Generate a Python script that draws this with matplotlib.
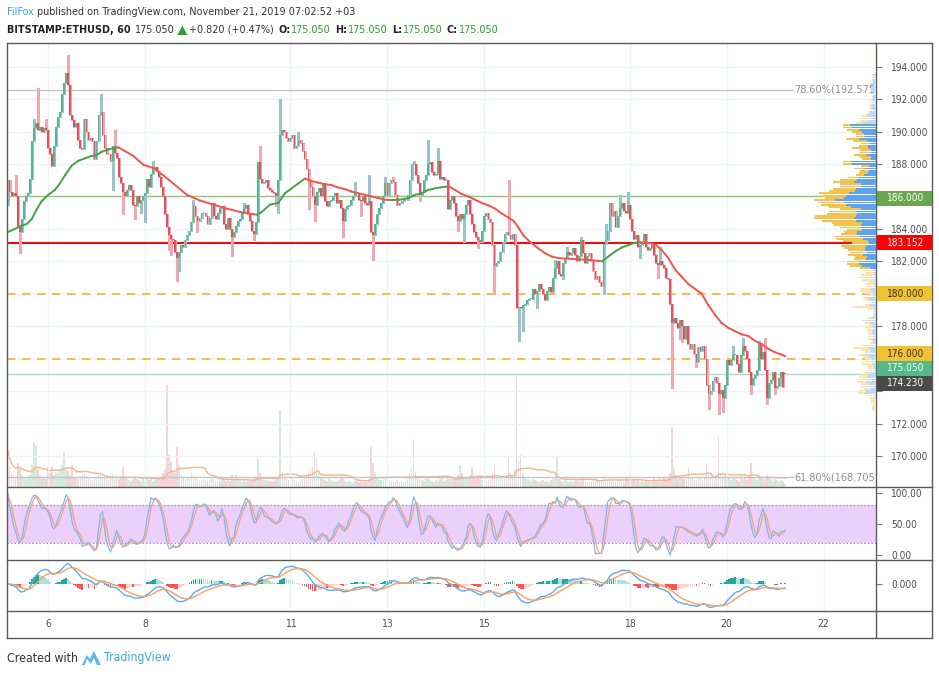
import datetime as dt
import numpy as np
import pandas as pd
import matplotlib
matplotlib.use('Agg')
import matplotlib.pyplot as plt
from matplotlib import font_manager as fm
from matplotlib.collections import LineCollection, PolyCollection
from matplotlib.lines import Line2D
from matplotlib.patches import Rectangle, Polygon

W, H, DPI = 939, 675, 100

# ---------------------------------------------------------------- data
START = dt.datetime(2019, 11, 5, 4, 0)      # first hourly candle
OPEN_FIRST = 185.45
LAST_OPEN = 175.05
CLOSE = [
    187.0, 186.3, 186.0, 186.2, 186.0, 184.2, 183.8, 184.6, 185.7, 186.0, 186.2, 187.1, 189.4, 190.2, 190.5, 190.1, 190.3, 190.0, 190.2, 190.1,
    189.0, 188.6, 187.9, 189.1, 190.3, 190.9, 191.2, 192.3, 193.0, 193.6, 192.9, 191.0, 190.7, 190.3, 190.5, 189.5, 189.0, 188.9, 190.8, 190.0,
    189.5, 189.6, 189.4, 188.3, 189.4, 191.0, 191.2, 189.8, 189.0, 188.6, 188.6, 188.2, 189.1, 188.7, 188.4, 187.2, 186.8, 186.3, 186.0, 186.4,
    186.7, 186.4, 185.5, 185.4, 186.0, 185.6, 185.8, 186.0, 186.2, 187.1, 186.6, 187.4, 187.7, 187.8, 187.6, 187.2, 186.6, 186.0, 184.9, 184.1,
    183.6, 183.4, 183.3, 182.6, 182.2, 182.6, 183.0, 182.9, 183.3, 183.6, 183.9, 184.4, 185.4, 184.8, 184.5, 184.7, 185.0, 185.0, 184.8, 184.3,
    184.7, 185.6, 184.8, 184.6, 185.0, 185.3, 185.4, 184.3, 184.0, 184.7, 184.0, 183.5, 183.8, 184.2, 184.5, 184.6, 185.0, 185.3, 185.5, 184.9,
    184.5, 183.9, 183.7, 184.4, 188.1, 187.1, 186.8, 186.9, 187.0, 186.5, 186.4, 186.3, 186.2, 186.0, 187.0, 189.8, 190.1, 190.0, 189.6, 189.4,
    189.6, 189.8, 189.0, 189.1, 189.5, 189.3, 188.8, 188.3, 187.7, 186.9, 186.6, 186.0, 185.5, 186.3, 186.5, 186.0, 186.8, 185.7, 185.4, 185.7,
    185.8, 186.0, 186.2, 185.6, 185.8, 185.3, 184.5, 185.2, 185.4, 185.5, 185.8, 186.0, 186.3, 186.2, 185.8, 185.7, 186.0, 185.6, 185.5, 185.7,
    183.8, 183.6, 184.3, 184.9, 185.3, 185.6, 186.0, 186.8, 186.1, 186.8, 187.0, 186.9, 186.1, 185.5, 185.6, 185.7, 185.8, 185.8, 186.1, 187.0,
    188.0, 188.0, 187.3, 186.8, 186.1, 186.3, 187.0, 187.3, 188.0, 188.1, 187.5, 187.3, 187.4, 188.2, 187.1, 187.2, 187.0, 187.0, 185.2, 185.8,
    186.0, 185.6, 184.8, 184.5, 184.9, 184.6, 184.9, 185.5, 185.8, 184.9, 184.3, 183.8, 183.5, 183.3, 183.2, 183.9, 184.8, 185.0, 184.6, 184.4,
    183.0, 181.7, 181.9, 182.0, 182.6, 183.2, 183.7, 183.8, 183.6, 183.4, 183.7, 183.0, 179.1, 179.2, 179.1, 179.3, 179.4, 179.6, 179.7, 179.7,
    180.3, 180.0, 180.2, 180.6, 180.3, 180.0, 179.6, 180.2, 180.4, 180.1, 181.0, 181.6, 182.0, 181.2, 181.1, 181.9, 182.2, 182.6, 182.4, 182.5,
    182.8, 182.4, 182.0, 182.3, 183.3, 182.5, 181.9, 182.3, 182.5, 182.0, 181.4, 180.9, 181.1, 180.7, 180.5, 183.1, 183.3, 183.9, 185.6, 184.8,
    185.1, 184.1, 184.8, 185.3, 185.6, 185.1, 185.0, 185.5, 184.6, 183.9, 183.4, 183.6, 182.9, 183.0, 183.2, 183.7, 182.9, 182.7, 182.8, 183.0,
    182.4, 181.9, 181.8, 182.0, 181.8, 181.6, 181.0, 180.9, 179.4, 178.2, 178.5, 178.2, 177.9, 178.4, 178.0, 177.2, 178.0, 176.9, 176.6, 176.9,
    176.3, 175.8, 176.7, 176.5, 176.8, 176.0, 174.4, 173.8, 174.0, 174.6, 174.9, 174.5, 173.8, 174.1, 173.6, 174.4, 175.9, 175.6, 175.9, 176.2,
    176.2, 175.7, 175.2, 176.2, 176.8, 176.5, 176.0, 175.2, 174.4, 174.8, 175.0, 175.3, 176.9, 176.0, 176.4, 175.3, 173.6, 174.5, 174.7, 175.2,
    174.2, 174.3, 174.8, 175.2, 174.23, 175.05,
]
# long wicks: candle index -> extreme price
WICK_HIGH = {4: 187.3, 13: 190.8, 15: 192.7, 19: 190.8, 30: 194.7, 46: 192.3, 53: 190.1, 72: 188.2,
             92: 185.8, 117: 185.6, 125: 189.1, 135: 192.0, 144: 190.0, 172: 186.9, 179: 187.3,
             187: 187.2, 191: 187.2, 201: 188.2, 208: 189.5, 213: 189.0, 248: 187.0, 271: 182.1,
             277: 182.9, 284: 183.5, 296: 184.3, 303: 186.1, 307: 186.3, 323: 182.9, 359: 176.8,
             364: 177.3, 372: 177.1, 375: 177.3}
WICK_LOW = {6: 182.5, 52: 186.4, 57: 184.9, 63: 184.6, 66: 185.0, 68: 184.4, 80: 182.7, 81: 182.4,
            84: 180.8, 85: 181.4, 94: 183.8, 111: 182.3, 122: 183.3, 133: 185.4, 134: 185.0,
            149: 185.2, 152: 184.5, 166: 183.5, 175: 184.8, 181: 182.1, 204: 185.7, 223: 183.9,
            226: 183.2, 233: 182.8, 241: 180.0, 253: 177.1, 255: 177.7, 262: 179.1, 270: 180.8,
            275: 180.9, 295: 180.0, 313: 182.2, 322: 181.0, 329: 174.2, 333: 177.2, 334: 177.0,
            341: 175.5, 347: 172.9, 352: 172.6, 354: 172.7, 368: 173.8, 376: 173.2, 380: 173.8,
            383: 174.3}
VOLUME = [
    37, 20, 14, 12, 10, 24, 18, 12, 10, 8, 9, 12, 22, 45, 42, 18, 12, 10, 9, 8,
    20, 14, 20, 12, 15, 14, 18, 22, 35, 20, 16, 12, 22, 10, 9, 8, 10, 12, 14, 10,
    9, 8, 7, 10, 8, 12, 14, 10, 9, 8, 7, 9, 12, 8, 10, 8, 9, 20, 10, 8,
    7, 6, 8, 10, 8, 7, 6, 8, 6, 9, 7, 8, 6, 7, 8, 9, 10, 14, 18, 102,
    32, 25, 16, 14, 40, 22, 12, 10, 8, 9, 10, 14, 12, 9, 8, 7, 6, 8, 7, 6,
    7, 9, 8, 6, 5, 6, 7, 8, 6, 7, 6, 12, 8, 12, 7, 6, 5, 6, 5, 6,
    6, 7, 8, 10, 29, 14, 10, 8, 7, 6, 6, 5, 6, 7, 8, 77, 15, 10, 8, 7,
    6, 8, 7, 6, 5, 7, 9, 10, 12, 14, 18, 20, 35, 29, 14, 10, 8, 7, 6, 9,
    7, 6, 5, 6, 7, 9, 10, 6, 5, 6, 5, 4, 6, 7, 5, 6, 5, 6, 5, 8,
    40, 24, 15, 10, 8, 7, 6, 12, 8, 7, 6, 5, 6, 7, 5, 6, 5, 6, 8, 14,
    20, 47, 15, 10, 8, 7, 6, 8, 9, 7, 6, 5, 7, 6, 8, 9, 6, 7, 10, 8,
    9, 8, 10, 12, 22, 14, 10, 8, 9, 12, 20, 10, 8, 12, 9, 7, 8, 6, 7, 8,
    14, 22, 10, 8, 9, 7, 8, 12, 30, 14, 10, 18, 109, 25, 32, 14, 9, 8, 7, 6,
    8, 7, 6, 5, 6, 7, 5, 6, 5, 7, 8, 9, 30, 8, 6, 5, 7, 6, 5, 6,
    5, 6, 7, 6, 10, 7, 6, 5, 6, 5, 7, 6, 8, 7, 6, 12, 10, 8, 9, 7,
    6, 5, 7, 8, 6, 5, 9, 7, 6, 8, 7, 6, 7, 5, 6, 5, 6, 7, 5, 6,
    10, 7, 6, 8, 7, 9, 8, 10, 14, 60, 18, 12, 8, 10, 9, 8, 12, 20, 10, 9,
    8, 7, 9, 8, 7, 10, 24, 14, 9, 8, 7, 12, 51, 14, 10, 12, 8, 9, 7, 10,
    8, 7, 6, 9, 8, 10, 7, 12, 24, 10, 8, 7, 12, 9, 8, 7, 12, 9, 8, 6,
    8, 7, 6, 7, 6, 3,
]
# moving average line (candle index, price)
MA_T = [0, 3.6, 6.9, 9.4, 11.9, 14.4, 16.8, 20.1, 23.4, 25.9, 28.4, 31.7, 35, 38.3, 41.6, 44.1, 46.5, 49.8,
        53.2, 55, 58, 62.2, 67.2, 72.1, 77.1, 82, 88.7, 95.2, 101.8, 108.5, 115, 121.6, 123.5, 125.8,
        129.9, 134, 137.3, 140.6, 143.9, 147.2, 150.5, 153.8, 157.1, 160.4, 163.7, 167, 170.3, 173.5,
        176.9, 180.2, 183.5, 186.8, 190.1, 194, 198.4, 201.7, 205, 208.3, 211.6, 216.5, 218.5, 221.5,
        224.8, 228.1, 231.4, 234.7, 238, 241.3, 244.6, 247.9, 250.4, 252.8, 255.3, 258.6, 262.7, 266,
        269.3, 272.6, 279.2, 285.9, 289.1, 292.4, 294.4, 297.4, 300.7, 304, 307.3, 310.6, 313.1, 315.6,
        318.8, 321, 323.8, 327.1, 330.4, 333.7, 337, 340.3, 343.6, 346.9, 350.2, 353.5, 356.8, 360.1,
        363.4, 366.7, 370, 373.3, 376.6, 379.8, 383.1, 385]
MA_V = [183.8, 184.0, 184.2, 184.3, 184.6, 185.2, 185.7, 186.1, 186.4, 186.8, 187.3, 187.9, 188.2, 188.35,
        188.5, 188.55, 188.75, 188.9, 189.0, 189.02, 188.8, 188.5, 187.95, 187.75, 187.3, 186.8, 186.1,
        185.75, 185.5, 185.25, 185.05, 184.9, 184.88, 185.05, 185.5, 185.6, 186.2, 186.5, 186.8, 187.1,
        186.95, 186.85, 186.75, 186.7, 186.55, 186.45, 186.3, 186.2, 186.1, 186.0, 185.9, 185.8, 185.78,
        185.8, 185.9, 186.1, 186.2, 186.4, 186.5, 186.6, 186.62, 186.4, 186.15, 186.0, 185.8, 185.6,
        185.45, 185.25, 184.95, 184.7, 184.5, 184.1, 183.6, 183.2, 182.8, 182.5, 182.3, 182.2, 182.15,
        182.1, 182.07, 182.03, 182.0, 182.3, 182.6, 182.85, 183.0, 183.15, 183.18, 183.15, 183.1, 183.0,
        182.7, 182.2, 181.5, 181.05, 180.6, 180.3, 180.0, 179.3, 178.7, 178.2, 177.9, 177.7, 177.5,
        177.4, 177.1, 176.9, 176.6, 176.4, 176.25, 176.15]

DAY_TICKS = [6, 8, 11, 13, 15, 18, 20, 22]
PRICE_TICKS = [170, 172, 174, 176, 178, 180, 182, 184, 186, 188, 190, 192, 194]
FIB_LEVELS = [192.575, 168.705]
FIB_TEXT = ['78.60%(192.575)', '61.80%(168.705)']
LEVEL_GREEN = 186.0
LEVEL_RED = 183.152
LEVEL_DASHED = [180.0, 176.0]
LAST_PRICE = 175.05
PREV_CLOSE = 174.23
AXIS_LABELS = [  # price, box colour, text colour, vertical nudge (px, up)
    (186.000, '#6AA84F', 'white', -2),
    (183.152, '#FF0000', 'white', 0),
    (180.000, '#F1C232', '#333333', 0),
    (176.000, '#F1C232', '#333333', 5),
    (175.050, '#53B987', 'white', 6),
    (174.230, '#4A4A4A', 'white', 4),
]

# ---------------------------------------------------------------- fonts
entries = fm.fontManager.ttflist
names = {f.name for f in entries}
STRETCH = 'normal'
narrow = [f for f in entries
          if ('Narrow' in f.name or 'Condensed' in f.name
              or f.stretch in ('condensed', 'semi-condensed', 'extra-condensed'))
          and 'Mono' not in f.name and 'Serif' not in f.name and 'CJK' not in f.name]
if 'Liberation Sans Narrow' in names:
    FONT = 'Liberation Sans Narrow'
elif narrow:
    FONT, STRETCH = narrow[0].name, narrow[0].stretch
else:
    FONT = 'Liberation Sans'
plt.rcParams['font.family'] = [FONT, 'DejaVu Sans']
plt.rcParams['font.stretch'] = STRETCH

# ---------------------------------------------------------------- derived series
close = np.array(CLOSE, dtype=float)
n = len(close)
open_ = np.r_[OPEN_FIRST, close[:-1]]
open_[-1] = LAST_OPEN
high = np.maximum(open_, close)
low = np.minimum(open_, close)
for j, v in WICK_HIGH.items():
    high[j] = max(high[j], v)
for j, v in WICK_LOW.items():
    low[j] = min(low[j], v)
vol = np.array(VOLUME, dtype=float)
idx = np.arange(n)
up = close >= open_

sc, sh, sl = pd.Series(close), pd.Series(high), pd.Series(low)
hh = sh.rolling(14, min_periods=1).max()
ll = sl.rolling(14, min_periods=1).min()
raw_k = 100 * (sc - ll) / (hh - ll).replace(0, np.nan)
stoch_k = raw_k.fillna(50).rolling(3, min_periods=1).mean()
stoch_d = stoch_k.rolling(3, min_periods=1).mean()

ema12 = sc.ewm(span=12, adjust=False).mean()
ema26 = sc.ewm(span=26, adjust=False).mean()
macd = ema12 - ema26
signal = macd.ewm(span=9, adjust=False).mean()
hist = (macd - signal).values
prev = np.r_[hist[0], hist[:-1]]
hist_col = np.where(hist >= 0, np.where(hist >= prev, '#26A69A', '#B2DFDB'),
                    np.where(hist < prev, '#FF5252', '#FFCDD2'))
vol_ma = pd.Series(vol).rolling(20, min_periods=1).mean()

hours = lambda d: (dt.datetime(2019, 11, d) - START).total_seconds() / 3600.0
tick_pos = [hours(d) for d in DAY_TICKS]

# ---------------------------------------------------------------- figure
fig = plt.figure(figsize=(W / DPI, H / DPI), dpi=DPI, facecolor='white')
rend = fig.canvas.get_renderer()

def text_w(s, size, weight='normal'):
    t = fig.text(0, 0, s, fontsize=size, fontweight=weight)
    w = t.get_window_extent(renderer=rend).width
    t.remove()
    return w

FS_AX = float(np.clip(10 * 34.0 / text_w('194.000', 10), 7.2, 9.0))
FS_HEAD = float(np.clip(10 * 348.0 / text_w('FilFox published on TradingView.com, November 21, 2019 07:02:52 +03', 10), 7.6, 9.6))
FS_FOOT = float(np.clip(10 * 71.0 / text_w('Created with', 10), 8.0, 10.5))

L, R = 7, 876
def ax_rect(top, bottom):
    return [L / W, 1 - bottom / H, (R - L) / W, (bottom - top) / H]

XLIM = (-0.3, 429.9)
ax = fig.add_axes(ax_rect(43, 487))
ax_st = fig.add_axes(ax_rect(487, 560))
ax_m = fig.add_axes(ax_rect(560, 611))
GRID = '#EEF1F6'

# volume (behind everything) on its own scale; profile on its own x scale
axv = ax.twinx()
axp = ax.twiny()
axv.set_zorder(0)
ax.set_zorder(1)
axp.set_zorder(2)
ax.patch.set_visible(False)
axp.patch.set_visible(False)

for a in (ax, ax_st, ax_m):
    a.set_xlim(*XLIM)
    for s in a.spines.values():
        s.set_visible(False)
    a.set_facecolor('none')
    for t in tick_pos:
        a.axvline(t, color=GRID, lw=1, zorder=0)
    a.yaxis.tick_right()
    a.yaxis.set_label_position('right')
    a.tick_params(axis='y', which='both', left=False, labelleft=False, right=True, labelright=True,
                  direction='out', length=4, width=0.8, color='#777777',
                  pad=7, labelsize=FS_AX, labelcolor='#4D4D4D')
    a.tick_params(axis='x', length=0)
    a.set_xticks([])

# --- main pane
YLIM = (168.09, 195.46)
ax.set_ylim(*YLIM)
BOX_H = 15
def price_to_px_up(p):   # pixels from figure bottom
    return ax.transData.transform((0, p))[1]
box_centres = [price_to_px_up(p) + nd for p, _, _, nd in AXIS_LABELS]
tick_labels = []
for p in PRICE_TICKS:
    yp = price_to_px_up(p)
    hidden = any(abs(yp - c) < BOX_H / 2 + 6 for c in box_centres)
    tick_labels.append('' if hidden else f'{p:.3f}')
ax.set_yticks(PRICE_TICKS)
ax.set_yticklabels(tick_labels)
for p in PRICE_TICKS:
    ax.axhline(p, color=GRID, lw=1, zorder=0)

axv.set_ylim(0, 444)
axv.set_xlim(*XLIM)
axv.axis('off')
axv.bar(idx, vol, width=0.8, color=np.where(up, '#D3EBDD', '#F4D4D8'), zorder=1,
        antialiased=False)
axv.plot(idx, vol_ma, color='#F7B38A', lw=1.0, zorder=2)

# horizontal levels
ax.axhline(LEVEL_GREEN, color='#93C47D', lw=1.0, zorder=2)
ax.axhline(LEVEL_RED, color='#FF0000', lw=1.4, zorder=2)
for lv in LEVEL_DASHED:
    ax.axhline(lv, color='#F1B52A', lw=1.2, dashes=(5, 4), zorder=2)
ax.axhline(LAST_PRICE, color='#A9DCC5', lw=1.0, zorder=2)
fib_x = 389.6
for lv, txt in zip(FIB_LEVELS, FIB_TEXT):
    ax.plot([XLIM[0], fib_x - 1], [lv, lv], color='#C4C4C4', lw=1.0, zorder=2)
    ax.text(fib_x, lv, txt, color='#8E8E8E', fontsize=FS_AX + 0.6, va='center', ha='left',
            clip_on=True, zorder=3)

# candles
bw = 0.85
wick_col = np.where(up, '#97C4C8', '#F4A6AF')
body_col = np.where(up, '#53B987', '#EB4D5C')
wicks = [[(i, low[i]), (i, high[i])] for i in idx]
ax.add_collection(LineCollection(wicks, colors=wick_col, linewidths=1.0, zorder=4,
                                 antialiaseds=False))
bodies = []
for i in idx:
    b0, b1 = min(open_[i], close[i]), max(open_[i], close[i])
    if b1 - b0 < 0.06:
        b1 = b0 + 0.06
    bodies.append([(i - bw / 2, b0), (i + bw / 2, b0), (i + bw / 2, b1), (i - bw / 2, b1)])
ax.add_collection(PolyCollection(bodies, facecolors=body_col, edgecolors='none', zorder=5,
                                 antialiaseds=False))

# moving average coloured by slope
ma_t, ma_v = np.array(MA_T), np.array(MA_V)
segs = [[(ma_t[i], ma_v[i]), (ma_t[i + 1], ma_v[i + 1])] for i in range(len(ma_t) - 1)]
seg_col = ['#45A347' if ma_v[i + 1] >= ma_v[i] else '#F2544F' for i in range(len(ma_t) - 1)]
ax.add_collection(LineCollection(segs, colors=seg_col, linewidths=1.4, zorder=6,
                                 capstyle='round', joinstyle='round'))

# volume profile (visible range)
bin_w = 0.14
edges = np.arange(172.4, 195.2 + bin_w, bin_w)
centers = (edges[:-1] + edges[1:]) / 2
vp_up = np.zeros(len(centers))
vp_dn = np.zeros(len(centers))
for i in idx:
    lo, hi = low[i], high[i]
    if hi - lo < 1e-9:
        k = np.clip(np.searchsorted(edges, lo) - 1, 0, len(centers) - 1)
        w = np.zeros(len(centers)); w[k] = 1.0
    else:
        w = np.clip(np.minimum(edges[1:], hi) - np.maximum(edges[:-1], lo), 0, None) / (hi - lo)
    if up[i]:
        vp_up += w * vol[i]
    else:
        vp_dn += w * vol[i]
tot = vp_up + vp_dn
poc = int(np.argmax(tot))
lo_i, hi_i = poc, poc
acc = tot[poc]
while acc < 0.7 * tot.sum():
    below = tot[lo_i - 1] if lo_i > 0 else -1
    above = tot[hi_i + 1] if hi_i < len(tot) - 1 else -1
    if above >= below:
        hi_i += 1; acc += tot[hi_i]
    else:
        lo_i -= 1; acc += tot[lo_i]
in_va = (np.arange(len(tot)) >= lo_i) & (np.arange(len(tot)) <= hi_i)
axp.set_xlim(tot.max() * (R - L) / 62.0, 0)
axp.axis('off')
axp.barh(centers, vp_up, height=bin_w * 0.78, left=0,
         color=np.where(in_va, '#5DA3EF', '#BCDAF8'), zorder=3)
axp.barh(centers, vp_dn, height=bin_w * 0.78, left=vp_up,
         color=np.where(in_va, '#F4C24E', '#FBE4B2'), zorder=3)
ax.set_ylim(*YLIM)

# --- stochastic pane
ax_st.set_ylim(-8.06, 109.7)
ax_st.fill_between(XLIM, 20, 80, color='#EBD0FC', zorder=1, lw=0)
for lv in (20, 80):
    ax_st.axhline(lv, color='#8F8A9E', lw=0.8, dashes=(1.2, 2), zorder=2)
ax_st.plot(idx, stoch_k, color='#7BB6F2', lw=0.9, zorder=3)
ax_st.plot(idx, stoch_d, color='#F4A27C', lw=0.9, zorder=3)
ax_st.set_yticks([0, 50, 100])
ax_st.set_yticklabels(['0.00', '50.00', '100.00'])

# --- MACD pane
hi_m = max(macd.max(), signal.max(), hist.max())
lo_m = min(macd.min(), signal.min(), hist.min())
pad = 0.08 * (hi_m - lo_m)
ax_m.set_ylim(lo_m - pad, hi_m + pad)
ax_m.bar(idx, hist, width=0.85, color=hist_col, zorder=2, antialiased=False)
ax_m.plot(idx, macd, color='#5AABF2', lw=1.0, zorder=3)
ax_m.plot(idx, signal, color='#F6A160', lw=1.0, zorder=3)
ax_m.set_yticks([0])
ax_m.set_yticklabels(['0.000'])
ax_m.set_xticks(tick_pos)
ax_m.set_xticklabels([str(d) for d in DAY_TICKS])
ax_m.tick_params(axis='x', length=0, pad=6, labelsize=FS_AX + 0.3, labelcolor='#4D4D4D')

# ---------------------------------------------------------------- frame
def px(x, y):
    return x / W, 1 - y / H
FRAME = '#5A5A5A'
def fline(x0, y0, x1, y1, lw=1.0):
    (a, b), (c, d) = px(x0, y0), px(x1, y1)
    fig.add_artist(Line2D([a, c], [b, d], color=FRAME, lw=lw, transform=fig.transFigure))
fline(7, 43, 932, 43); fline(7, 638, 932, 638)
fline(7, 43, 7, 638); fline(932, 43, 932, 638)
fline(876, 43, 876, 638)
for yy in (487, 560, 611):
    fline(7, yy, 932, yy)

# axis price boxes
for (price, bg, fg, nudge), yc in zip(AXIS_LABELS, box_centres):
    fig.add_artist(Rectangle(((R + 0.5) / W, (yc - BOX_H / 2) / H), 55.5 / W, BOX_H / H,
                             transform=fig.transFigure, facecolor=bg, edgecolor='none', zorder=10))
    fig.text(887 / W, yc / H, f'{price:.3f}', color=fg, fontsize=FS_AX, va='center',
             ha='left', zorder=11)

# ---------------------------------------------------------------- header / footer
def ftxt(x, y, s, color='#333333', weight='normal', size=FS_HEAD):
    fx, fy = px(x, y)
    t = fig.text(fx, fy, s, color=color, fontweight=weight, fontsize=size, va='center', ha='left')
    return x + t.get_window_extent(renderer=rend).width

x = ftxt(7, 12, 'FilFox', color='#3BA0E6')
ftxt(x + 3, 12, 'published on TradingView.com, November 21, 2019 07:02:52 +03')
GREEN_T = '#22A822'
x = ftxt(7, 30, 'BITSTAMP:ETHUSD, 60', weight='bold', color='#222222')
x = ftxt(x + 4, 30, f'{LAST_PRICE:.3f}')
x += 3
tri = [px(x, 35), px(x + 10, 35), px(x + 5, 25.5)]
fig.add_artist(Polygon(tri, closed=True, transform=fig.transFigure, facecolor='#2CA02C', edgecolor='none'))
chg = LAST_PRICE - PREV_CLOSE
x = ftxt(x + 12, 30, f'+{chg:.3f} (+{chg / PREV_CLOSE * 100:.2f}%)')
for lab in ['O:', 'H:', 'L:', 'C:']:
    x = ftxt(x + 4, 30, lab, weight='bold', color='#222222')
    x = ftxt(x + 1, 30, f'{LAST_PRICE:.3f}', color=GREEN_T)

x = ftxt(7, 658, 'Created with', color='#333333', size=FS_FOOT)
x += 4
logo = [px(x, 665), px(x + 5, 655), px(x + 8, 659), px(x + 12, 651), px(x + 19, 665),
        px(x + 15, 665), px(x + 12, 658), px(x + 9, 664), px(x + 5, 659), px(x + 3, 665)]
fig.add_artist(Polygon(logo, closed=True, transform=fig.transFigure, facecolor='#56BBEA',
                       edgecolor='none'))
ftxt(x + 22, 658, 'TradingView', color='#3AA7E0', size=FS_FOOT)

fig.savefig('out.png', dpi=DPI, facecolor='white')
